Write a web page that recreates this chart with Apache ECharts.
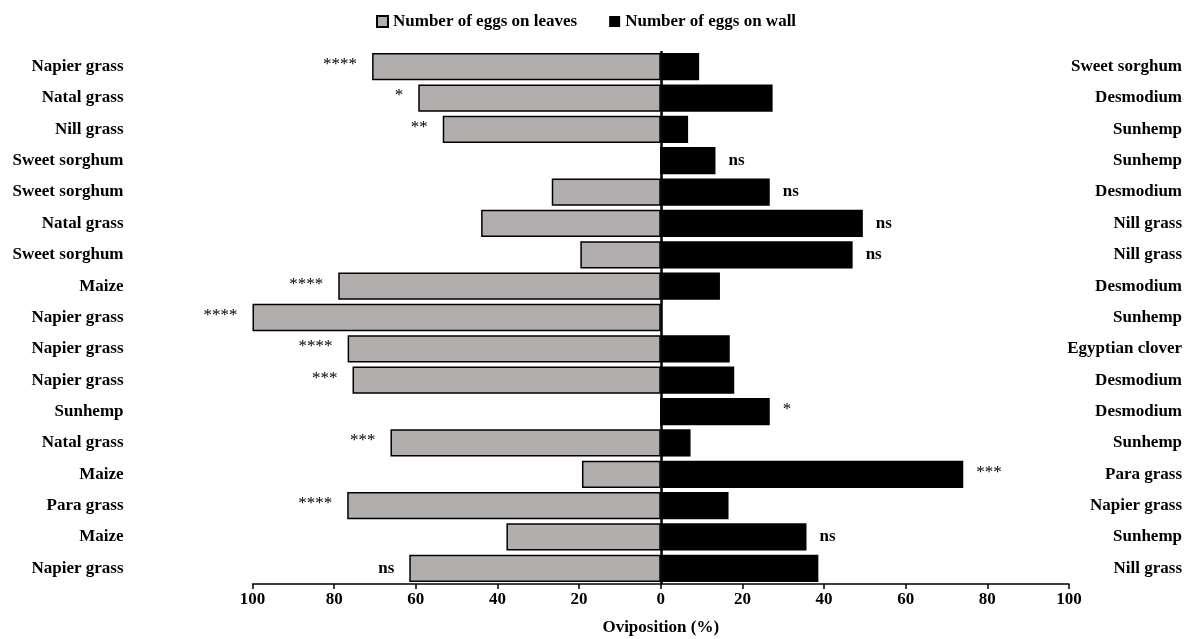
<!DOCTYPE html>
<html>
<head>
<meta charset="utf-8">
<script src="https://cdn.jsdelivr.net/npm/echarts@6/dist/echarts.min.js"></script>
<style>
html,body{margin:0;padding:0;background:#fff;}
#chart{width:1189px;height:639px;}
</style>
</head>
<body>
<div id="chart"></div>
<script>
var leftPlants = ["Napier grass","Natal grass","Nill grass","Sweet sorghum","Sweet sorghum","Natal grass","Sweet sorghum","Maize","Napier grass","Napier grass","Napier grass","Sunhemp","Natal grass","Maize","Para grass","Maize","Napier grass"];
var rightPlants = ["Sweet sorghum","Desmodium","Sunhemp","Sunhemp","Desmodium","Nill grass","Nill grass","Desmodium","Sunhemp","Egyptian clover","Desmodium","Desmodium","Sunhemp","Para grass","Napier grass","Sunhemp","Nill grass"];
var leavesValues = [70.7,59.4,53.4,0,26.7,44.0,19.7,79.0,100,76.7,75.5,0,66.2,19.3,76.8,37.8,61.6];
var wallValues = [9.4,27.4,6.7,13.4,26.7,49.5,47.0,14.5,0,16.9,18.0,26.7,7.3,74.1,16.6,35.7,38.6];
var leavesSig = ["****","*","**","","","","","****","****","****","***","","***","","****","","ns"];
var wallSig = ["","","","ns","ns","ns","ns","","","","","*","","***","","ns",""];
var xTicks = [-100,-80,-60,-40,-20,0,20,40,60,80,100];

var FONT = "'Liberation Serif','Times New Roman',serif";
var chart = echarts.init(document.getElementById('chart'));

function sigFmt(arr){
  return function(p){
    var s = arr[p.dataIndex];
    if(!s) return '';
    return s === 'ns' ? '{ns|' + s + '}' : '{st|' + s + '}';
  };
}
var richSig = {
  ns: {fontFamily: FONT, fontWeight: 'bold', fontSize: 17, color: '#000'},
  st: {fontFamily: FONT, fontWeight: 'normal', fontSize: 17, color: '#000', padding: [0,0,4,0]}
};

chart.setOption({
  animation: false,
  backgroundColor: '#fff',
  legend: {
    left: 371, top: 8,
    itemWidth: 11, itemHeight: 11, itemGap: 32,
    icon: 'rect',
    textStyle: {fontFamily: FONT, fontWeight: 'bold', fontSize: 17, color: '#000'},
    data: ['Number of eggs on leaves', 'Number of eggs on wall']
  },
  grid: {left: 252.5, right: 120, top: 51, bottom: 55, containLabel: false, outerBoundsMode: 'none'},
  xAxis: {
    type: 'value', min: -100, max: 100, interval: 20,
    name: 'Oviposition (%)', nameLocation: 'middle', nameGap: 35,
    nameTextStyle: {fontFamily: FONT, fontWeight: 'bold', fontSize: 17, color: '#000'},
    axisLine: {show: true, onZero: false, lineStyle: {color: '#000', width: 1.5}},
    axisTick: {show: true, length: 5, lineStyle: {color: '#000', width: 1.5}},
    splitLine: {show: false},
    axisLabel: {
      margin: 7,
      fontFamily: FONT, fontWeight: 'bold', fontSize: 17, color: '#000',
      formatter: function(v){ return xTicks.indexOf(v) >= 0 ? String(Math.abs(v)) : ''; }
    }
  },
  yAxis: [
    {
      type: 'category', data: leftPlants, inverse: true, position: 'left',
      axisLine: {show: false, onZero: false}, axisTick: {show: false},
      axisLabel: {margin: 129, fontFamily: FONT, fontWeight: 'bold', fontSize: 17, color: '#000'}
    },
    {
      type: 'category', data: rightPlants, inverse: true, position: 'right',
      axisLine: {show: false, onZero: false}, axisTick: {show: false},
      axisLabel: {margin: 113, align: 'right', fontFamily: FONT, fontWeight: 'bold', fontSize: 17, color: '#000'}
    }
  ],
  series: [
    {
      name: 'Number of eggs on leaves', type: 'bar', yAxisIndex: 0,
      barCategoryGap: '13%',
      data: leavesValues.map(function(v){ return -v; }),
      itemStyle: {color: '#b2aeae', borderColor: '#000', borderWidth: 1.5},
      label: {show: true, position: 'left', distance: 15, formatter: sigFmt(leavesSig), rich: richSig},
      markLine: {
        silent: true, symbol: ['none','none'],
        label: {show: false},
        lineStyle: {color: '#000', width: 2.5, type: 'solid'},
        data: [{xAxis: 0}]
      }
    },
    {
      name: 'Number of eggs on wall', type: 'bar', yAxisIndex: 1,
      barCategoryGap: '13%',
      data: wallValues,
      itemStyle: {color: '#000', borderColor: '#000', borderWidth: 0},
      label: {show: true, position: 'right', distance: 13, formatter: sigFmt(wallSig), rich: richSig}
    }
  ]
});
</script>
</body>
</html>
